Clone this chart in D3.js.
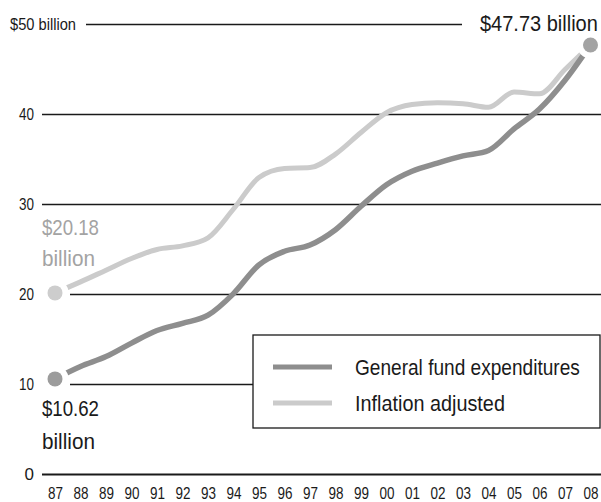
<!DOCTYPE html>
<html>
<head>
<meta charset="utf-8">
<script src="https://cdn.jsdelivr.net/npm/d3@7"></script>
<style>
  body { margin: 0; background: #fff; }
  svg { display: block; font-family: "Liberation Sans", Arial, sans-serif; }
</style>
</head>
<body>
<script>
// state general fund spending, 1987 - 2008 (billions of dollars)
var years = ["87","88","89","90","91","92","93","94","95","96","97","98","99","00","01","02","03","04","05","06","07","08"];
var general = [10.62, 12.0, 13.1, 14.6, 16.0, 16.8, 17.7, 20.1, 23.3, 24.8, 25.5, 27.2, 29.8, 32.2, 33.7, 34.6, 35.4, 36.0, 38.4, 40.6, 43.8, 47.73];
var inflation = [20.18, 21.4, 22.7, 24.0, 25.0, 25.4, 26.3, 29.5, 33.0, 34.0, 34.1, 35.6, 38.0, 40.2, 41.1, 41.3, 41.2, 40.8, 42.5, 42.3, 45.0, 47.73];
var yTicks = [0, 10, 20, 30, 40, 50];
var legendNames = ["General fund expenditures", "Inflation adjusted"];

window.onload = function(){

    var w = 601, h = 502;

    var svg = d3.select("body")
        .append("svg")
        .attr("width", w)
        .attr("height", h);

    //squeeze a text sideways to a set width - the original uses a condensed face
    function squeeze(sel, len){
        sel.each(function(){
            var natural = this.getComputedTextLength();
            var s = len / natural;
            var x0 = +d3.select(this).attr("x") || 0;
            d3.select(this).attr("transform",
                "translate(" + x0 + ",0) scale(" + s + ",1) translate(" + (-x0) + ",0)");
        });
    }

    //scales
    var x = d3.scalePoint()
        .domain(years)
        .range([55, 590.5]);

    var y = d3.scaleLinear()
        .domain([0, 50])
        .range([474.5, 24.5]);

    //gridlines - they break around labels, dots and the legend
    svg.selectAll(".grid")
        .data(yTicks)
        .enter()
        .append("line")
        .attr("class", "grid")
        .attr("x1", function(d){
            if (d == 50) return 86;
            if (d == 10 || d == 20) return 70;
            return 42;
        })
        .attr("x2", function(d){
            if (d == 50) return 462;
            if (d == 10) return 253;
            return w;
        })
        .attr("y1", function(d){ return y(d); })
        .attr("y2", function(d){ return y(d); })
        .style("stroke", "#1a1a1a")
        .style("stroke-width", function(d){ return d == 0 ? 2 : 1.3; });

    //y axis labels
    var yAxis = d3.axisLeft(y)
        .tickValues(yTicks)
        .tickSize(0)
        .tickPadding(0)
        .tickFormat(function(d){ return d == 50 ? "$50 billion" : d; });

    var yg = svg.append("g")
        .attr("class", "axis")
        .attr("transform", "translate(34, 0)")
        .call(yAxis);
    yg.select(".domain").remove();
    yg.selectAll("text")
        .style("font-family", "inherit")
        .style("font-size", "17px")
        .style("fill", "#1a1a1a")
        .attr("x", function(d){ return d == 50 ? 42 : 0; })
        .each(function(d){
            var t = d3.select(this);
            if (d == 50) squeeze(t, 66);
            else if (d > 0) squeeze(t, 15);
        });

    //x axis labels
    var xAxis = d3.axisBottom(x)
        .tickSize(0)
        .tickPadding(0);

    var xg = svg.append("g")
        .attr("class", "axis")
        .attr("transform", "translate(0, 487)")
        .call(xAxis);
    xg.select(".domain").remove();
    xg.selectAll("text")
        .style("font-family", "inherit")
        .style("font-size", "17px")
        .style("fill", "#1a1a1a")
        .call(squeeze, 15);

    //lines
    var line = function(vals){
        return d3.line()
            .x(function(d, i){ return x(years[i]); })
            .y(function(d){ return y(d); })
            .curve(d3.curveMonotoneX)(vals);
    };

    svg.append("path")
        .attr("d", line(inflation))
        .style("fill", "none")
        .style("stroke", "#cbcbcb")
        .style("stroke-width", 5)
        .style("stroke-linecap", "round");

    svg.append("path")
        .attr("d", line(general))
        .style("fill", "none")
        .style("stroke", "#8e8e8e")
        .style("stroke-width", 5.5)
        .style("stroke-linecap", "round");

    //end dots, with a white halo so the lines stop short of them
    var dots = [
        { yr: years[0], v: inflation[0], c: "#cdcdcd" },
        { yr: years[0], v: general[0], c: "#9c9c9c" },
        { yr: years[years.length - 1], v: general[general.length - 1], c: "#a3a3a3" }
    ];

    svg.selectAll(".dot")
        .data(dots)
        .enter()
        .append("circle")
        .attr("class", "dot")
        .attr("cx", function(d){ return x(d.yr); })
        .attr("cy", function(d){ return y(d.v); })
        .attr("r", 7.5)
        .style("fill", function(d){ return d.c; })
        .style("stroke", "#fff")
        .style("stroke-width", 12)
        .style("paint-order", "stroke");

    //value callouts
    var call = svg.append("g").style("font-size", "22px");

    call.append("text")
        .attr("x", 480)
        .attr("y", 31)
        .style("fill", "#1a1a1a")
        .text("$" + general[general.length - 1] + " billion")
        .call(squeeze, 118);

    call.append("text")
        .attr("x", 42)
        .attr("y", 235)
        .style("fill", "#a3a3a3")
        .text("$" + inflation[0].toFixed(2))
        .call(squeeze, 57);
    call.append("text")
        .attr("x", 42)
        .attr("y", 266)
        .style("fill", "#a3a3a3")
        .text("billion")
        .call(squeeze, 53);

    call.append("text")
        .attr("x", 42)
        .attr("y", 416)
        .style("fill", "#1a1a1a")
        .text("$" + general[0].toFixed(2))
        .call(squeeze, 57);
    call.append("text")
        .attr("x", 42)
        .attr("y", 449)
        .style("fill", "#1a1a1a")
        .text("billion")
        .call(squeeze, 53);

    //legend
    var legend = svg.append("g")
        .attr("transform", "translate(253, 335)");

    legend.append("rect")
        .attr("width", 347)
        .attr("height", 93)
        .style("fill", "#fff")
        .style("stroke", "#1a1a1a")
        .style("stroke-width", 1.3);

    var rows = legend.selectAll(".row")
        .data(legendNames)
        .enter()
        .append("g")
        .attr("class", "row")
        .attr("transform", function(d, i){ return "translate(0," + (32 + i * 36) + ")"; });

    rows.append("line")
        .attr("x1", 20)
        .attr("x2", 79)
        .style("stroke", function(d, i){ return i == 0 ? "#8e8e8e" : "#cbcbcb"; })
        .style("stroke-width", 5);

    rows.append("text")
        .attr("x", 102)
        .attr("y", 8)
        .style("font-size", "22px")
        .style("fill", "#1a1a1a")
        .text(function(d){ return d; })
        .each(function(d, i){ squeeze(d3.select(this), i == 0 ? 225 : 150); });
};
</script>
</body>
</html>
